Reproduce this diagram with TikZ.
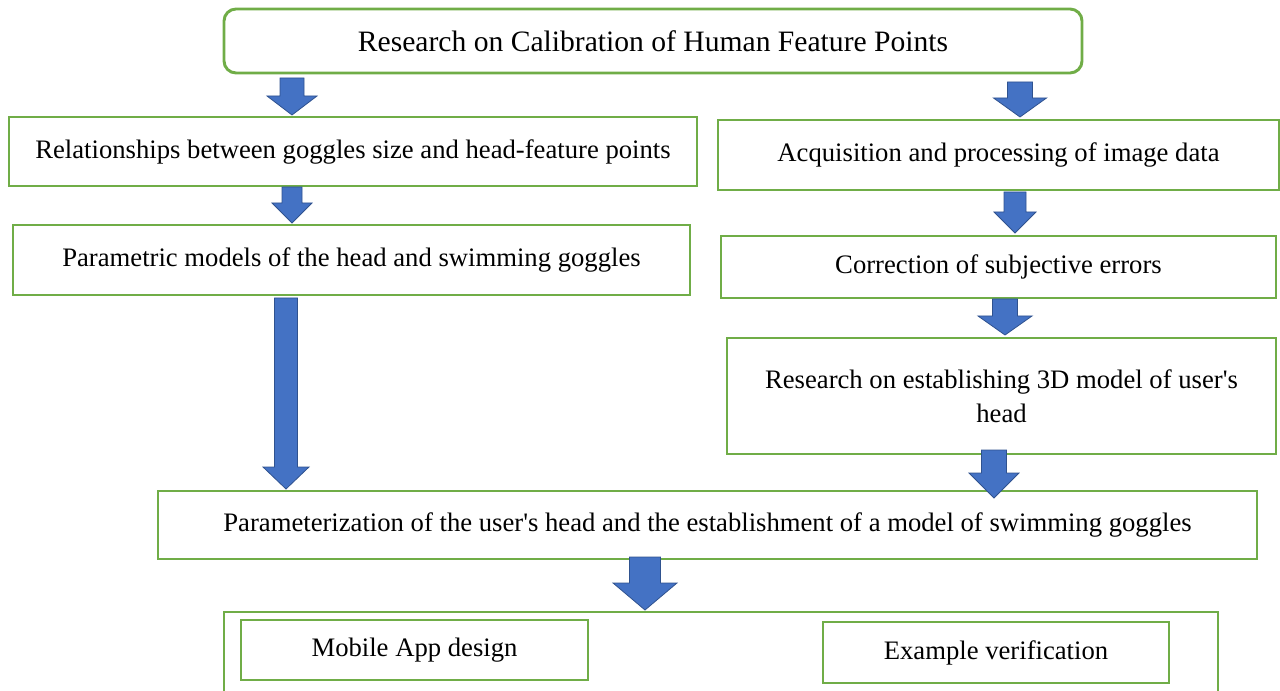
\documentclass[tikz,border=0pt]{standalone}
\usepackage{fontspec}
\setmainfont{Liberation Serif}
\definecolor{boxgreen}{HTML}{70AD47}
\definecolor{arrowblue}{HTML}{4472C4}
\definecolor{arrowedge}{HTML}{2F528F}
\newcommand\bx[7][]{\node[box,#1,minimum width={(#4-#2)*0.75pt},minimum height={(#5-#3)*0.75pt}] (#6) at ({(#2+#4)/2},{(#3+#5)/2}) {#7};}
\newcommand\blk[6]{\draw[blk] ({#1-#5/2},#2) -- ({#1+#5/2},#2) -- ({#1+#5/2},#3) -- ({#1+#6/2},#3) -- (#1,#4) -- ({#1-#6/2},#3) -- ({#1-#5/2},#3) -- cycle;}
\begin{document}
\begin{tikzpicture}[x=0.75pt,y=-0.75pt,
  box/.style={draw=boxgreen,line width=2.2pt,inner sep=0pt,align=center,font=\fontsize{20}{25.5}\selectfont},
  blk/.style={fill=arrowblue,draw=arrowedge,line width=0.6pt,line join=miter}]
\useasboundingbox (0,0) rectangle (1280,691);
\bx[rounded corners=9pt,font=\fontsize{22.2}{26}\selectfont]{224}{9}{1082}{73}{top}{Research on Calibration of Human Feature Points}
\bx{9}{117}{697}{186}{l1}{Relationships between goggles size and head-feature points}
\bx{718}{120}{1279}{190}{r1}{Acquisition and processing of image data}
\bx{13}{225}{690}{295}{l2}{Parametric models of the head and swimming goggles}
\bx{721}{236}{1276}{298}{r2}{Correction of subjective errors}
\bx{727}{338}{1276}{454}{r3}{Research on establishing 3D model of user\textquotesingle s\\head}
\bx{158}{491}{1257}{559}{par}{Parameterization of the user\textquotesingle s head and the establishment of a model of swimming goggles}
\draw[draw=boxgreen,line width=2.2pt] (224,695) coordinate (ob1) -- (224,612) -- (1218,612) -- (1218,695) coordinate (ob2);
\bx{241}{620}{588}{680}{app}{Mobile App design}
\bx{823}{622}{1169}{683}{ver}{Example verification}
% block arrows
\blk{292}{78}{96}{115}{24}{50}
\blk{1020}{82}{98}{117}{25}{53}
\blk{292}{187}{203}{223}{20}{40}
\blk{1015}{192}{212}{233}{22}{42}
\blk{1005}{299}{316}{335}{25}{54}
\blk{286}{298}{467}{489}{23}{46}
\blk{994}{450}{473}{498}{25}{50}
\blk{645}{557}{583}{610}{31}{64}
\end{tikzpicture}
\end{document}
